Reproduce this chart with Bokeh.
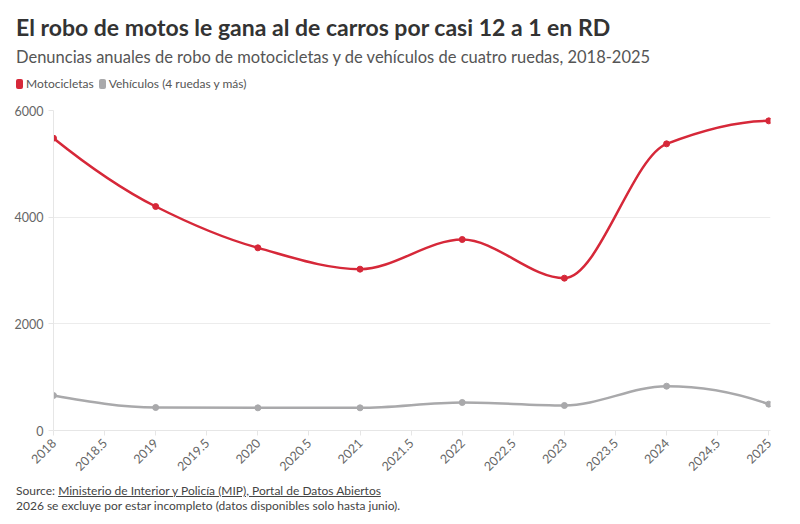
import numpy as np
from bokeh.plotting import figure
from bokeh.models import Range1d, FixedTicker, Div
from bokeh.layouts import column
from bokeh.embed import file_html
from bokeh.resources import INLINE

years = [2018, 2019, 2020, 2021, 2022, 2023, 2024, 2025]
motos = [5481, 4200, 3425, 3025, 3581, 2856, 5375, 5806]
vehiculos = [656, 431, 425, 425, 525, 469, 831, 494]
x_ticks = [2018, 2018.5, 2019, 2019.5, 2020, 2020.5, 2021, 2021.5, 2022, 2022.5,
           2023, 2023.5, 2024, 2024.5, 2025]
x_tick_labels = ["2018", "2018.5", "2019", "2019.5", "2020", "2020.5", "2021", "2021.5",
                 "2022", "2022.5", "2023", "2023.5", "2024", "2024.5", "2025"]
y_ticks = [0, 2000, 4000, 6000]
y_tick_labels = ["0", "2000", "4000", "6000"]

title = "El robo de motos le gana al de carros por casi 12 a 1 en RD"
subtitle = "Denuncias anuales de robo de motocicletas y de vehículos de cuatro ruedas, 2018-2025"
legend_labels = ["Motocicletas", "Vehículos (4 ruedas y más)"]
source_link = "Ministerio de Interior y Policía (MIP), Portal de Datos Abiertos"
note = "2026 se excluye por estar incompleto (datos disponibles solo hasta junio)."

RED = "#d62839"
GRAY = "#a9a9ab"
FONT = "Lato"


def pchip_tangents(x, y):
    x = np.asarray(x, float)
    y = np.asarray(y, float)
    h = np.diff(x)
    d = np.diff(y) / h
    n = len(x)
    m = np.zeros(n)
    for k in range(1, n - 1):
        if d[k - 1] * d[k] > 0:
            w1 = 2 * h[k] + h[k - 1]
            w2 = h[k] + 2 * h[k - 1]
            m[k] = (w1 + w2) / (w1 / d[k - 1] + w2 / d[k])

    def end(h0, h1, d0, d1):
        t = ((2 * h0 + h1) * d0 - h0 * d1) / (h0 + h1)
        if np.sign(t) != np.sign(d0):
            return 0.0
        if np.sign(d0) != np.sign(d1) and abs(t) > abs(3 * d0):
            return 3 * d0
        return t
    m[0] = end(h[0], h[1], d[0], d[1])
    m[-1] = end(h[-1], h[-2], d[-1], d[-2])
    return m


def bezier_parts(x, y):
    x = np.asarray(x, float)
    y = np.asarray(y, float)
    m = pchip_tangents(x, y)
    dx = np.diff(x)
    return dict(x0=x[:-1], y0=y[:-1], x1=x[1:], y1=y[1:],
                cx0=x[:-1] + dx / 3, cy0=y[:-1] + m[:-1] * dx / 3,
                cx1=x[1:] - dx / 3, cy1=y[1:] - m[1:] * dx / 3)


W = 784
header = Div(width=W, height=100, margin=(0, 0, 0, 0), text=f"""
<div style="font-family:{FONT}; padding-left:16px;">
  <div style="font-size:23px; font-weight:bold; color:#333333; line-height:27px; margin-top:14px; white-space:nowrap;">{title}</div>
  <div style="font-size:16.5px; color:#555555; line-height:20px; margin-top:6px; white-space:nowrap;">{subtitle}</div>
  <div style="font-size:12px; color:#555555; line-height:14px; margin-top:10px; white-space:nowrap; display:flex; align-items:center;">
    <span style="display:inline-block; width:7px; height:10px; background:{RED}; border-radius:2px; margin-right:3px;"></span>
    <span style="margin-right:5px;">{legend_labels[0]}</span>
    <span style="display:inline-block; width:7px; height:10px; background:{GRAY}; border-radius:2px; margin-right:3px;"></span>
    <span>{legend_labels[1]}</span>
  </div>
</div>
""")

p = figure(width=W, height=378, output_backend="svg", toolbar_location=None,
           x_range=Range1d(2018, 2025.017), y_range=Range1d(0, 6000),
           min_border_left=53, min_border_right=14, min_border_top=10,
           min_border_bottom=48, margin=(0, 0, 0, 0))
p.outline_line_color = None
p.background_fill_color = "white"

p.xgrid.grid_line_color = None
p.ygrid.grid_line_color = "#ececec"
p.ygrid.ticker = FixedTicker(ticks=y_ticks)

p.xaxis.ticker = FixedTicker(ticks=x_ticks)
p.xaxis.major_label_overrides = {t: l for t, l in zip(x_ticks, x_tick_labels)}
p.xaxis.major_label_orientation = np.pi / 4
p.yaxis.ticker = FixedTicker(ticks=y_ticks)
p.yaxis.major_label_overrides = {t: l for t, l in zip(y_ticks, y_tick_labels)}
for ax in (p.xaxis, p.yaxis):
    ax.axis_line_color = "#e6e6e6"
    ax.major_tick_line_color = "#e6e6e6"
    ax.minor_tick_line_color = None
    ax.major_tick_out = 5
    ax.major_tick_in = 0
    ax.major_label_text_font = FONT
    ax.major_label_text_font_size = "12.5px"
    ax.major_label_text_color = "#666666"

for series, col in ((vehiculos, GRAY), (motos, RED)):
    p.bezier(**bezier_parts(years, series), line_color=col, line_width=2.5)
    p.scatter(years, series, size=6, color=col)

footer = Div(width=W, height=40, margin=(0, 0, 0, 0), text=f"""
<div style="font-family:{FONT}; padding-left:16px; font-size:12px; color:#444444; line-height:15px; padding-top:5px; white-space:nowrap;">
  <div>Source: <span style="text-decoration:underline;">{source_link}</span></div>
  <div>{note}</div>
</div>
""")

layout = column(header, p, footer, margin=(0, 0, 0, 0), spacing=0)
open("out.html", "w").write(file_html(layout, INLINE))
